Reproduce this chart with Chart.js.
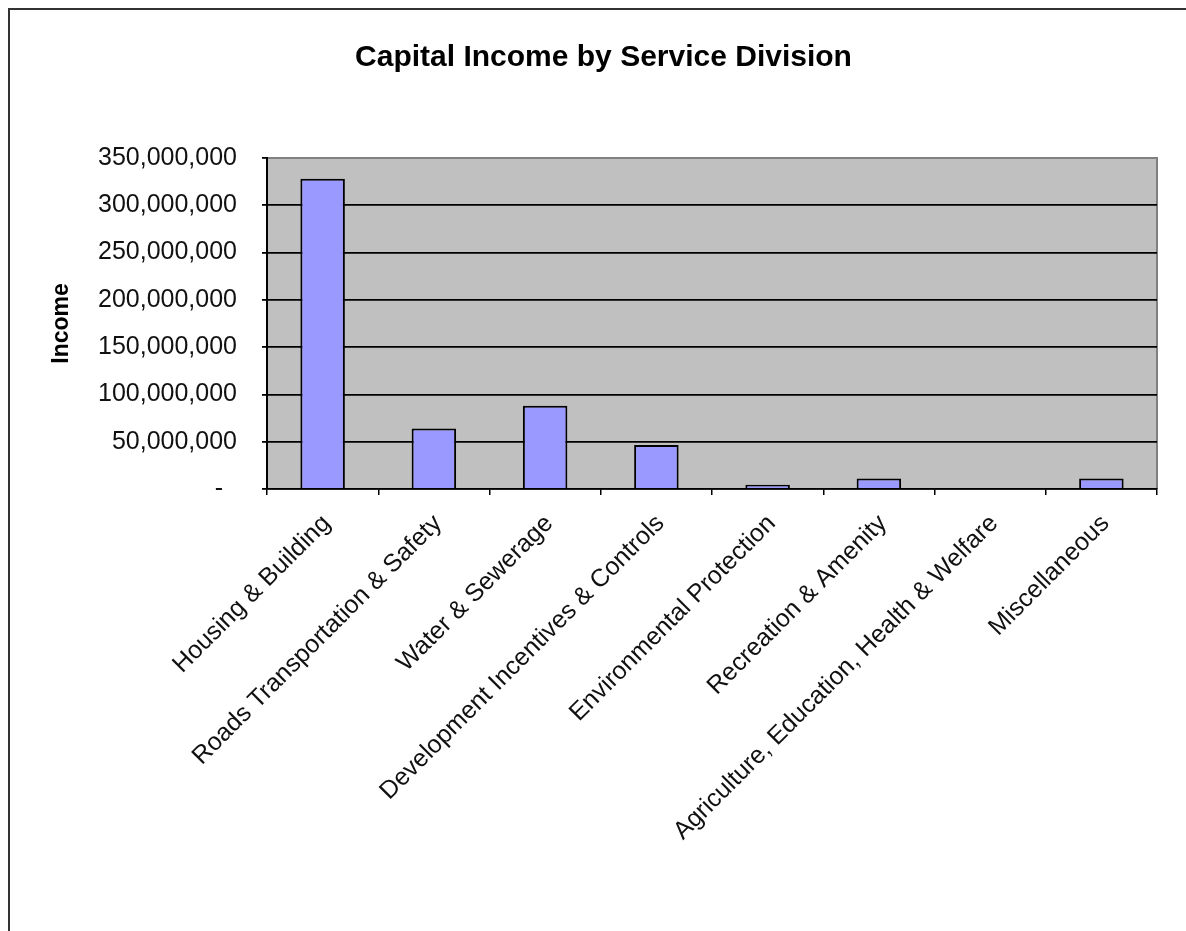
<!DOCTYPE html>
<html>
<head>
<meta charset="utf-8">
<script src="https://cdn.jsdelivr.net/npm/chart.js@4"></script>
<style>
  body { margin: 0; background: #fff; }
</style>
</head>
<body>
<canvas id="myChart" width="1186" height="931"></canvas>
<script>
// Data
const labels = [
    'Housing & Building',
    'Roads Transportation & Safety',
    'Water & Sewerage',
    'Development Incentives & Controls',
    'Environmental Protection',
    'Recreation & Amenity',
    'Agriculture, Education, Health & Welfare',
    'Miscellaneous'
];
const income = [328000000, 64000000, 88000000, 46500000, 4500000, 11000000, 0, 11000000];
const yTicks = [0, 50000000, 100000000, 150000000, 200000000, 250000000, 300000000, 350000000];

const FONT = 'Arial, "Liberation Sans", sans-serif';

// grey plot area + outer frame, like the Excel original
const backdrop = {
    id: 'backdrop',
    beforeDraw(chart) {
        const { ctx, chartArea: a } = chart;
        ctx.save();
        ctx.fillStyle = '#fff';
        ctx.fillRect(0, 0, chart.width, chart.height);
        ctx.strokeStyle = '#333';
        ctx.lineWidth = 2;
        ctx.strokeRect(9, 9, chart.width + 50, chart.height + 50);
        ctx.fillStyle = '#c0c0c0';
        ctx.fillRect(a.left, a.top, a.right - a.left, a.bottom - a.top);
        ctx.strokeStyle = '#808080';
        ctx.lineWidth = 2;
        ctx.beginPath();
        ctx.moveTo(a.left, a.top);
        ctx.lineTo(a.right, a.top);
        ctx.lineTo(a.right, a.bottom);
        ctx.stroke();
        ctx.restore();
    }
};

const data = {
    labels: labels,
    datasets: [{
        label: 'Income',
        data: income,
        backgroundColor: '#9999ff',
        borderColor: '#000',
        borderWidth: 2,
        barPercentage: 0.4,
        categoryPercentage: 1
    }]
};

const config = {
    type: 'bar',
    data: data,
    plugins: [backdrop],
    options: {
        responsive: false,
        animation: false,
        layout: { padding: { left: 50, right: 29, top: 0, bottom: 0 } },
        plugins: {
            legend: { display: false },
            tooltip: { enabled: false },
            title: {
                display: true,
                text: 'Capital Income by Service Division',
                color: '#000',
                font: { family: FONT, size: 30, weight: 'bold' },
                padding: { top: 40, bottom: 82 }
            }
        },
        scales: {
            x: {
                afterFit(scale) { scale.height = 442; },
                grid: {
                    offset: true,
                    drawOnChartArea: false,
                    color: '#000',
                    tickLength: 6,
                    lineWidth: 1.5
                },
                border: { color: '#000', width: 1.5 },
                ticks: {
                    autoSkip: false,
                    minRotation: 45,
                    maxRotation: 45,
                    padding: 14,
                    labelOffset: 4,
                    color: '#111',
                    font: { family: FONT, size: 25 }
                }
            },
            y: {
                min: 0,
                max: 350000000,
                afterFit(scale) { scale.width = 217; },
                afterBuildTicks(scale) {
                    scale.ticks = yTicks.map(v => ({ value: v }));
                },
                grid: {
                    color: c => (c.tick && c.tick.value === 350000000 ? '#808080' : '#000'),
                    tickColor: '#000',
                    lineWidth: 1.8,
                    tickLength: 5
                },
                border: { color: '#000', width: 2 },
                ticks: {
                    padding: 25,
                    color: '#111',
                    font: { family: FONT, size: 25 },
                    callback: v => (v === 0 ? '-  ' : v.toLocaleString('en-US'))
                },
                title: {
                    display: true,
                    text: 'Income',
                    color: '#000',
                    font: { family: FONT, size: 23, weight: 'bold', lineHeight: 1 },
                    padding: { top: 0.5, bottom: 0 }
                }
            }
        }
    }
};

const myChart = new Chart(document.getElementById('myChart'), config);
</script>
</body>
</html>
